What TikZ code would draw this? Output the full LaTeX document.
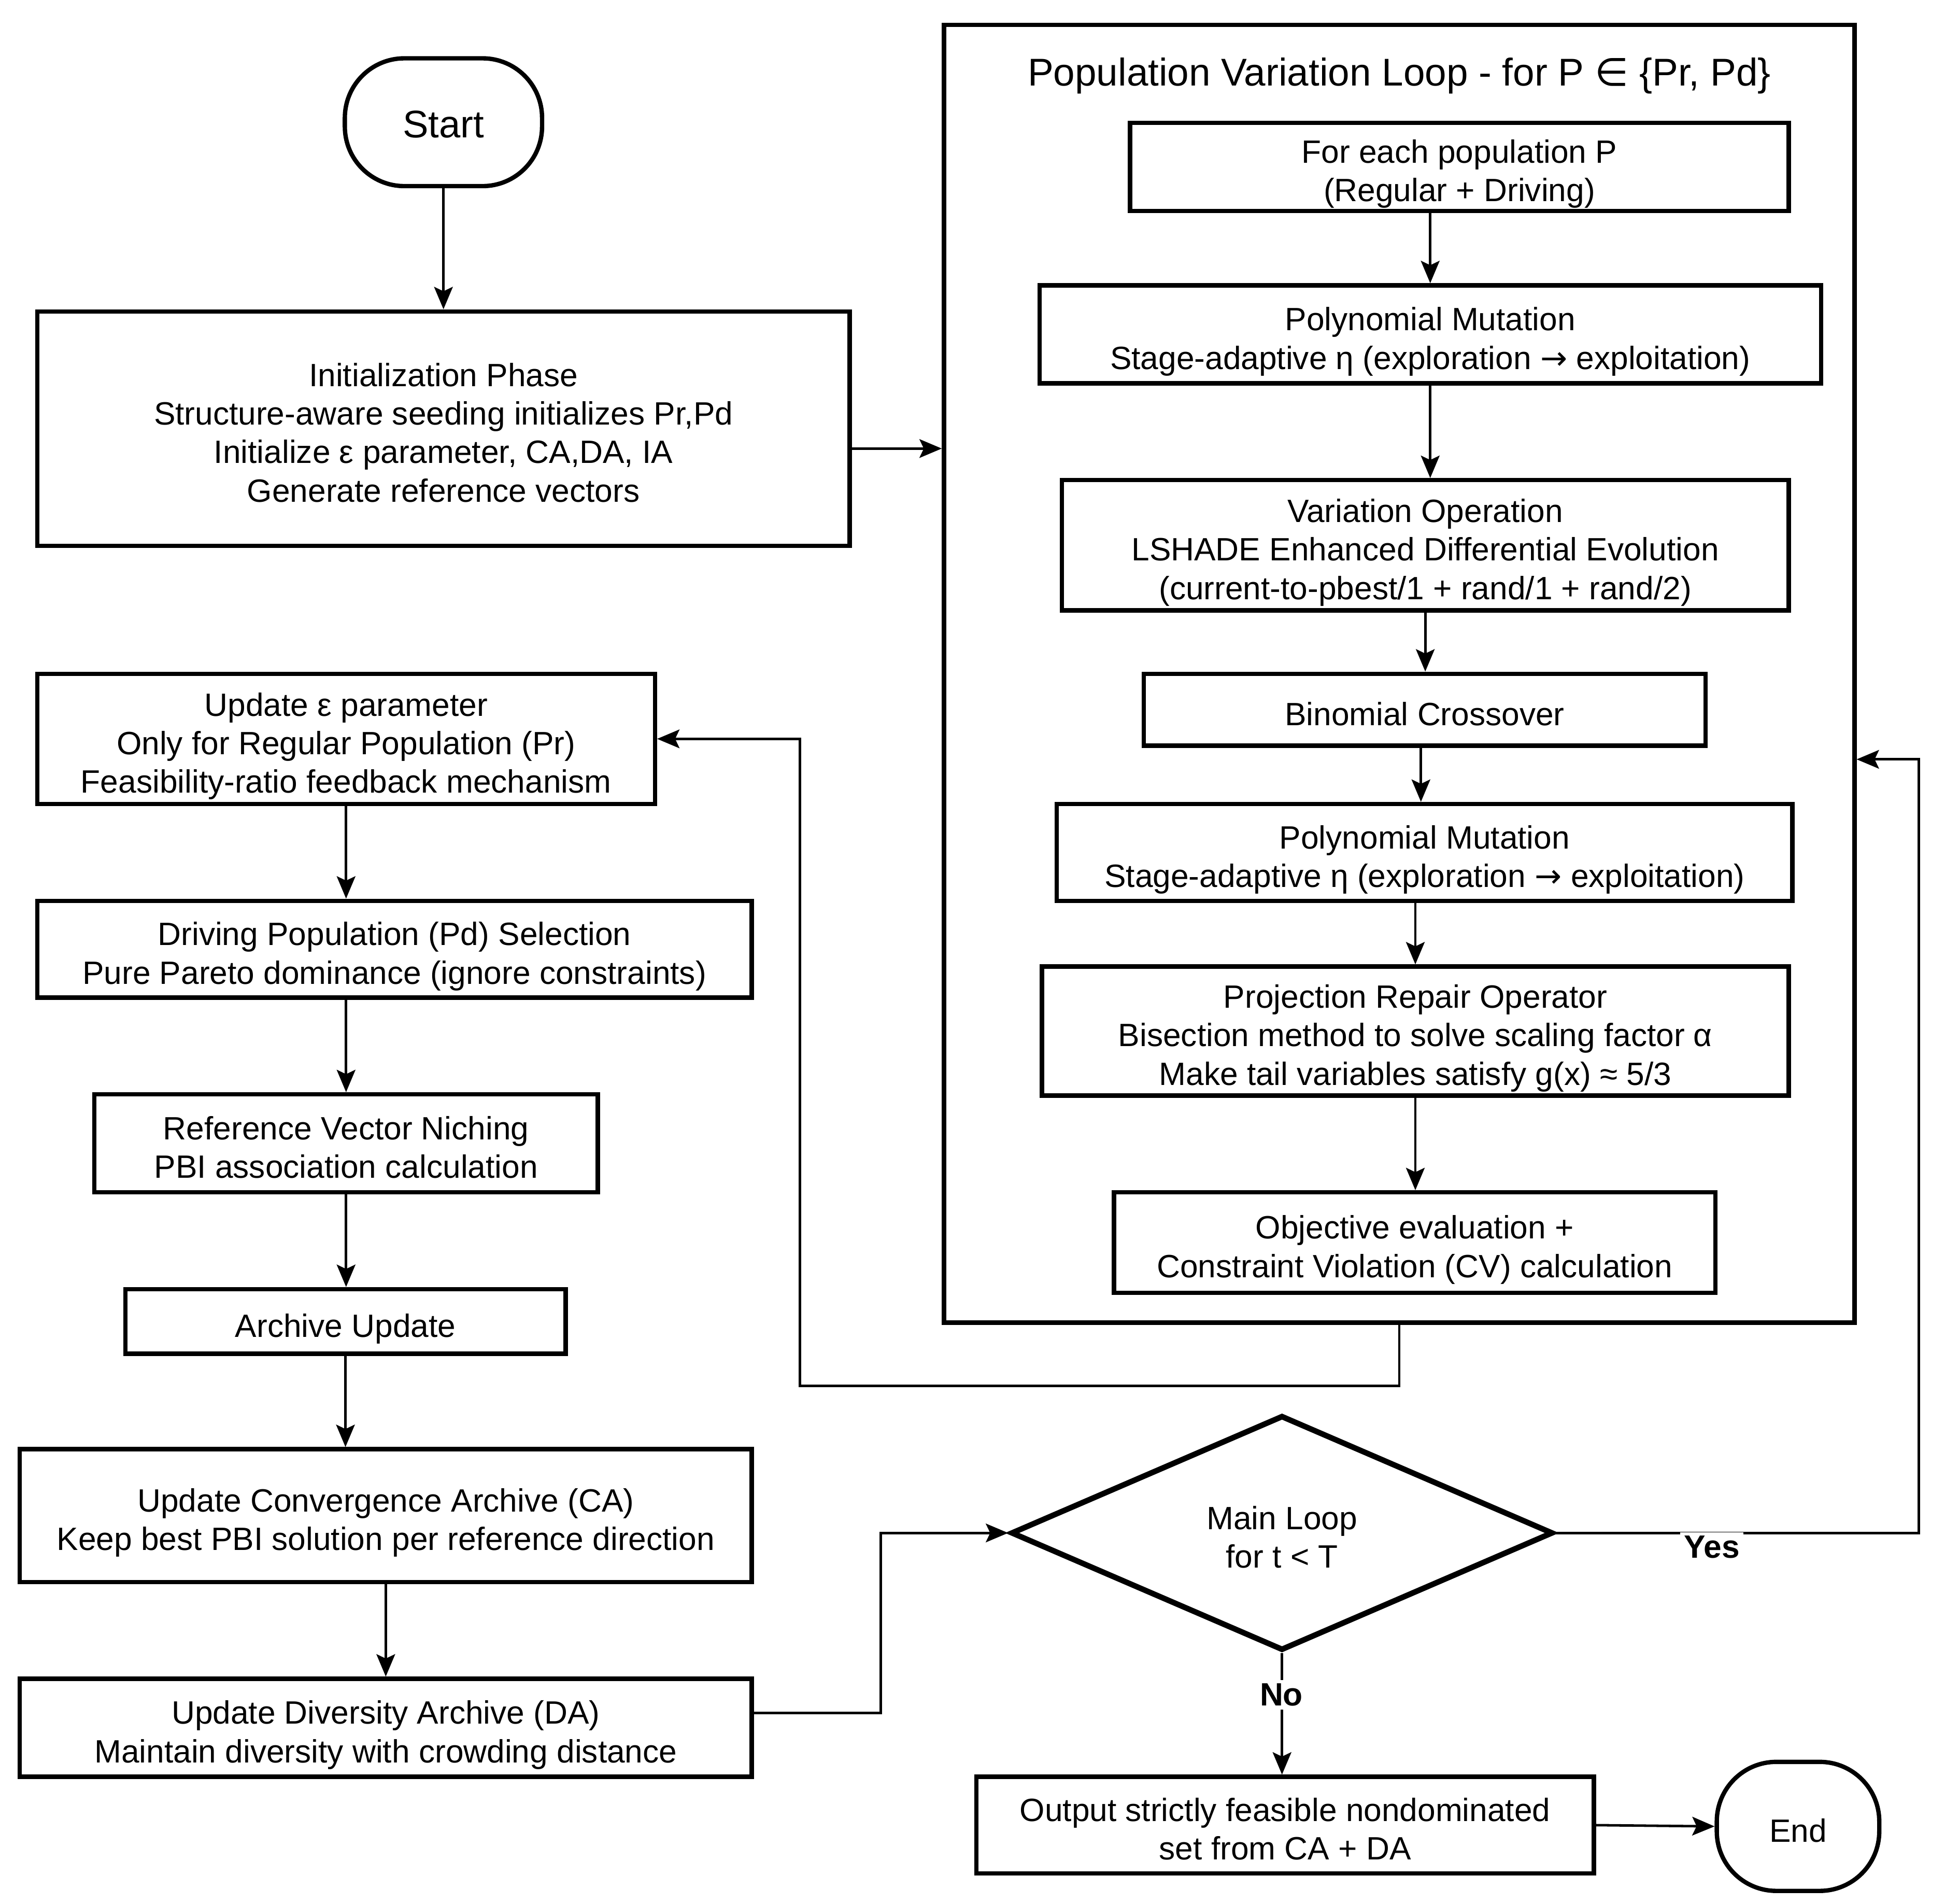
\documentclass[tikz,border=0pt]{standalone}
\usepackage{fontspec}
\setmainfont{Liberation Sans}
\newfontfamily\djv{DejaVu Sans}
\usetikzlibrary{shapes.geometric,arrows.meta,calc}
\newcommand\myTS{\rule{0pt}{31pt}}
\newcommand\myBS{\rule[-6pt]{0pt}{6pt}}
\begin{document}
\begin{tikzpicture}[x=1pt,y=-1pt,
  box/.style={draw,line width=3.5pt,inner sep=0pt,align=center,font=\fontsize{26}{31}\selectfont},
  term/.style={box,rounded corners=48pt},
  conn/.style={line width=2pt},
  arr/.style={conn,-{Stealth[length=18pt,width=15pt,inset=3.5pt]}},
  lbl/.style={fill=white,inner sep=3pt,font=\fontsize{26}{31}\selectfont\bfseries}]
\fill[white] (0,0) rectangle (1568,1534.2);
\useasboundingbox (0,0) rectangle (1568,1534.2);

% left column
\node[term,minimum width=159pt,minimum height=103pt,font=\fontsize{31}{37}\selectfont] (start) at (357.5,98.5) {\rule{0pt}{31pt}Start\myBS};
\node[box,minimum width=655pt,minimum height=189pt] (init) at (357.5,345.5) {\myTS Initialization Phase\\Structure-aware seeding initializes Pr,Pd\\Initialize ε parameter, CA,DA, IA\\Generate reference vectors\myBS};

\node[box,minimum width=498pt,minimum height=105pt] (U1) at (279,595.5) {\myTS Update ε parameter\\Only for Regular Population (Pr)\\Feasibility-ratio feedback mechanism\myBS};
\node[box,minimum width=576pt,minimum height=78pt] (D1) at (318,765) {\myTS Driving Population (Pd) Selection\\Pure Pareto dominance (ignore constraints)\myBS};
\node[box,minimum width=406pt,minimum height=79pt] (R1) at (279,921.5) {\myTS Reference Vector Niching\\PBI association calculation\myBS};
\node[box,minimum width=355pt,minimum height=52pt] (A1) at (278.5,1065) {\myTS Archive Update\myBS};
\node[box,minimum width=590pt,minimum height=107pt] (C1) at (311,1221.5) {\myTS Update Convergence Archive (CA)\\Keep best PBI solution per reference direction\myBS};
\node[box,minimum width=590pt,minimum height=79pt] (DA) at (311,1392.5) {\myTS Update Diversity Archive (DA)\\Maintain diversity with crowding distance\myBS};

% loop container
\node[draw,line width=3.5pt,inner sep=0pt,minimum width=734pt,minimum height=1046pt] (loop) at (1128,543) {};
\node[font=\fontsize{31.2}{37}\selectfont] (title) at (1128,61) {Population Variation Loop - for P {\djv ∈} \{Pr, Pd\}};

\node[box,minimum width=531pt,minimum height=71pt] (B1) at (1176.5,134.5) {\myTS For each population P\\(Regular + Driving)\myBS};
\node[box,minimum width=630pt,minimum height=79pt] (B2) at (1153,269.5) {\myTS Polynomial Mutation\\Stage-adaptive η (exploration {\djv →} exploitation)\myBS};
\node[box,minimum width=586pt,minimum height=105pt] (B3) at (1149,439.5) {\myTS Variation Operation\\LSHADE Enhanced Differential Evolution\\(current-to-pbest/1 + rand/1 + rand/2)\myBS};
\node[box,minimum width=453pt,minimum height=58pt] (B4) at (1148.5,572) {\myTS Binomial Crossover\myBS};
\node[box,minimum width=593pt,minimum height=78pt] (B5) at (1148.5,687) {\myTS Polynomial Mutation\\Stage-adaptive η (exploration {\djv →} exploitation)\myBS};
\node[box,minimum width=602pt,minimum height=104pt] (B6) at (1141,831) {\myTS Projection Repair Operator\\Bisection method to solve scaling factor α\\Make tail variables satisfy g(x) ≈ 5/3\myBS};
\node[box,minimum width=485pt,minimum height=81pt] (B7) at (1140.5,1001.5) {\myTS Objective evaluation +\\Constraint Violation (CV) calculation\myBS};

% decision and end
\node[box,shape=diamond,line width=4.5pt,minimum width=437pt,minimum height=185pt] (dm) at (1033.5,1235.5) {\myTS Main Loop\\for t < T\myBS};
\node[box,minimum width=498pt,minimum height=78pt] (out) at (1036,1471) {\myTS Output strictly feasible nondominated\\set from CA + DA\myBS};
\node[term,minimum width=131pt,minimum height=104pt] (end) at (1449.5,1472) {\myTS End\myBS};

% connectors
\draw[arr] (start.south) -- (start.south |- init.north);
\coordinate (ia) at ([yshift=-16pt]init.east);
\draw[arr] (ia) -- (ia -| loop.west);

\draw[arr] (B2.north |- B1.south) -- (B2.north);
\draw[arr] (B2.south) -- (B2.south |- B3.north);
\draw[arr] (B3.south) -- (B3.south |- B4.north);
\draw[arr] ([xshift=-3pt]B4.south) -- ([xshift=-3pt]B4.south |- B5.north);
\draw[arr] (B6.north |- B5.south) -- (B6.north);
\draw[arr] (B6.south) -- (B6.south |- B7.north);

\coordinate (fb) at (645,1117);
\draw[arr] (loop.south) |- (fb) |- (U1.east);

\draw[arr] (U1.south) -- (U1.south |- D1.north);
\draw[arr] (R1.north |- D1.south) -- (R1.north);
\draw[arr] (R1.south) -- (R1.south |- A1.north);
\draw[arr] (A1.south) -- (A1.south |- C1.north);
\draw[arr] (C1.south) -- (C1.south |- DA.north);

\coordinate (da) at ([yshift=12pt]DA.east);
\coordinate (dj) at (710,1380.5);
\draw[arr] (da) -- (dj) |- (dm.west);

\coordinate (yc) at (1547,612);
\draw[arr] (dm.east) -| (yc) -- (yc -| loop.east);
\node[lbl] (yes) at (1380,1247) {Yes};

\draw[arr] (dm.south) -- (dm.south |- out.north);
\node[lbl] (no) at (1033,1366) {No};

\draw[arr] (out.east) -- (end.west);
\end{tikzpicture}
\end{document}
